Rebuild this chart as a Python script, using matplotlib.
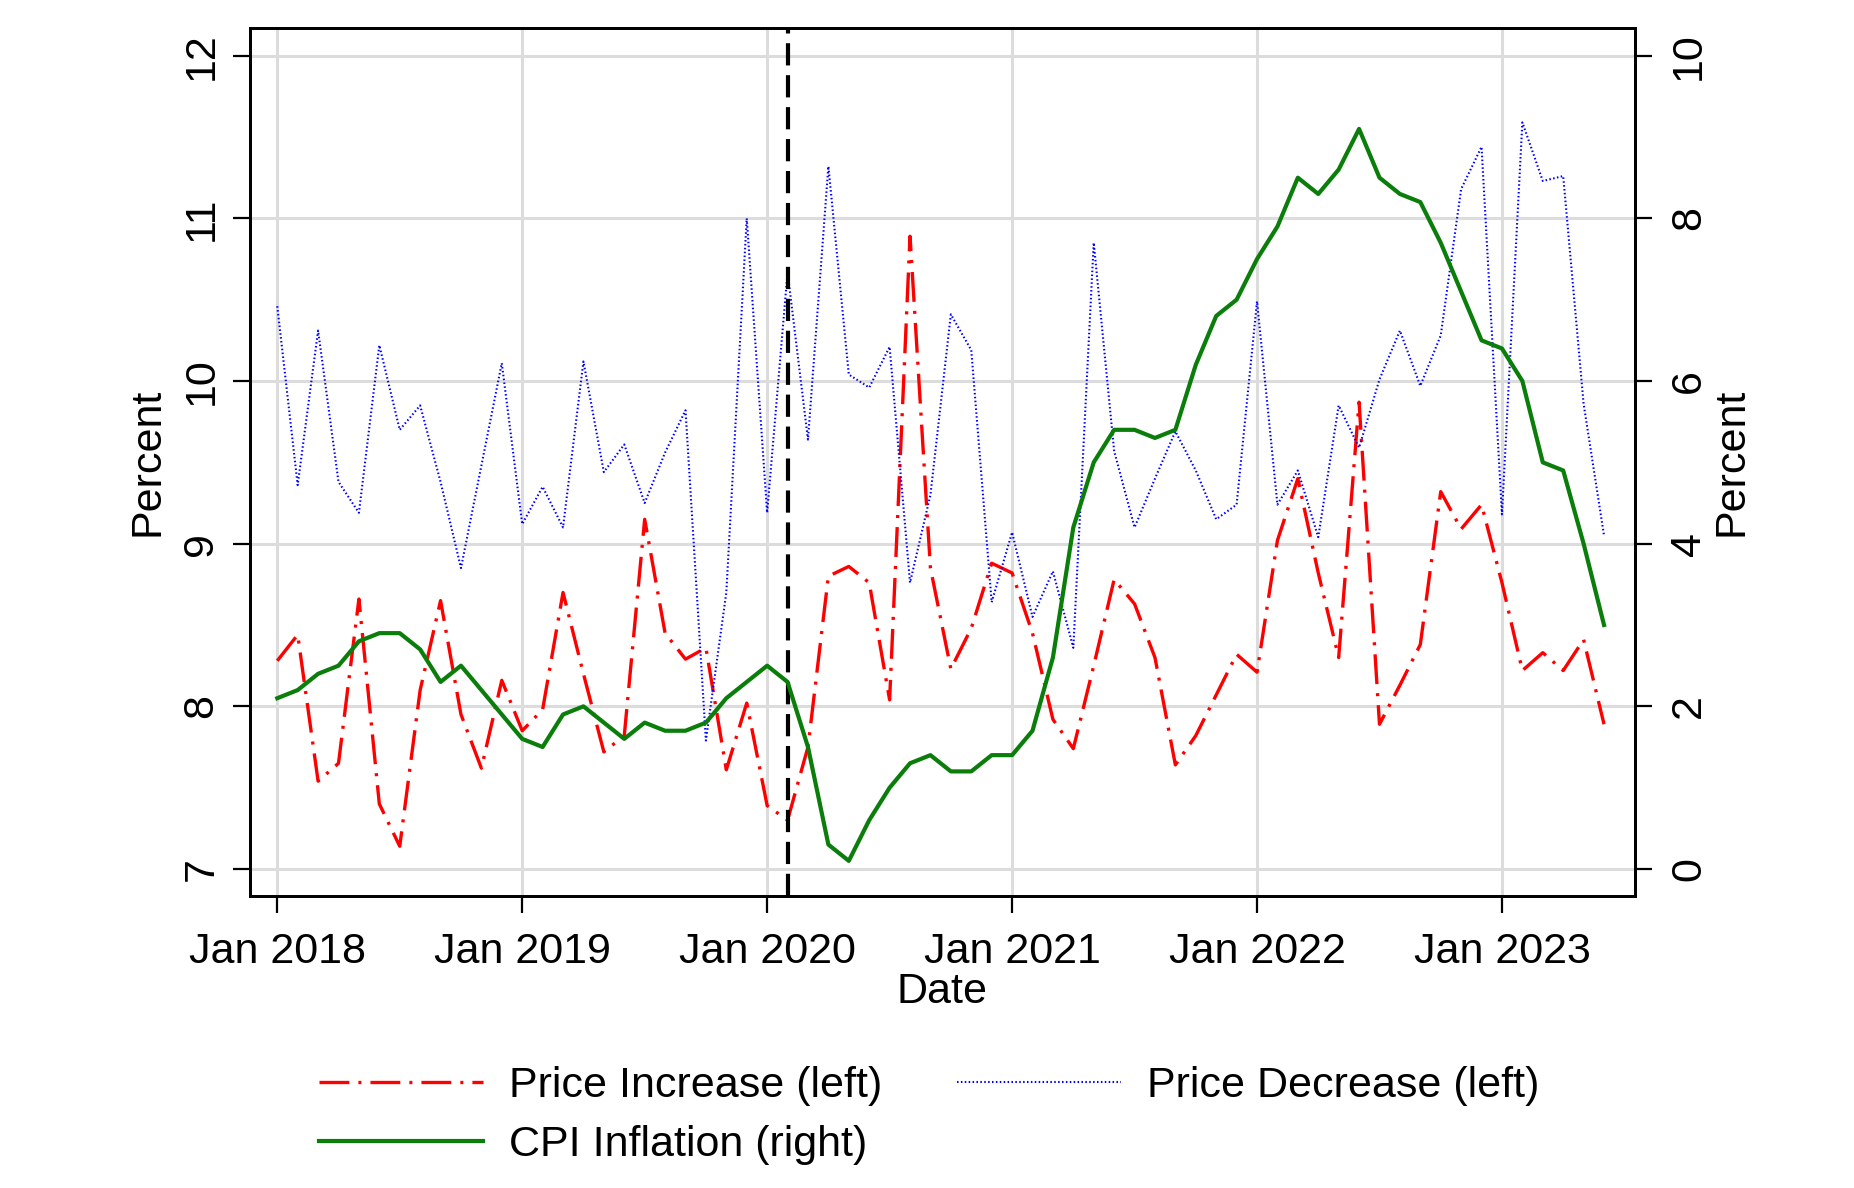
import numpy as np
import matplotlib.pyplot as plt

plt.rcParams['font.family'] = ['Liberation Sans', 'DejaVu Sans']
plt.rcParams['lines.scale_dashes'] = False

# months since Jan 2018 (Jan 2018 .. Jun 2023)
month = np.arange(66)

# share of price increases / decreases (left axis, percent)
price_inc = [8.28, 8.44, 7.54, 7.65, 8.66, 7.40, 7.14, 8.10, 8.65, 7.95, 7.62, 8.16,
             7.85, 7.98, 8.70, 8.20, 7.72, 7.82, 9.15, 8.45, 8.29, 8.36, 7.61, 8.02,
             7.39, 7.30, 7.75, 8.80, 8.86, 8.76, 8.04, 10.89, 8.85, 8.23, 8.48, 8.88,
             8.82, 8.45, 7.92, 7.74, 8.25, 8.78, 8.63, 8.30, 7.64, 7.82, 8.07, 8.32,
             8.21, 9.02, 9.40, 8.82, 8.30, 9.87, 7.89, 8.13, 8.38, 9.32, 9.09, 9.24,
             8.76, 8.22, 8.33, 8.22, 8.41, 7.89]
price_dec = [10.46, 9.36, 10.31, 9.38, 9.19, 10.22, 9.70, 9.85, 9.38, 8.85, 9.48, 10.11,
             9.12, 9.35, 9.10, 10.12, 9.44, 9.61, 9.25, 9.56, 9.82, 7.79, 8.70, 11.00,
             9.19, 10.67, 9.64, 11.32, 10.04, 9.96, 10.21, 8.76, 9.30, 10.41, 10.19, 8.64,
             9.07, 8.55, 8.83, 8.36, 10.85, 9.57, 9.10, 9.40, 9.69, 9.45, 9.15, 9.24,
             10.49, 9.24, 9.45, 9.04, 9.85, 9.59, 10.01, 10.31, 9.97, 10.28, 11.18, 11.44,
             9.18, 11.59, 11.23, 11.26, 9.86, 9.05]
# CPI inflation (right axis, percent)
cpi = [2.1, 2.2, 2.4, 2.5, 2.8, 2.9, 2.9, 2.7, 2.3, 2.5, 2.2, 1.9,
       1.6, 1.5, 1.9, 2.0, 1.8, 1.6, 1.8, 1.7, 1.7, 1.8, 2.1, 2.3,
       2.5, 2.3, 1.5, 0.3, 0.1, 0.6, 1.0, 1.3, 1.4, 1.2, 1.2, 1.4,
       1.4, 1.7, 2.6, 4.2, 5.0, 5.4, 5.4, 5.3, 5.4, 6.2, 6.8, 7.0,
       7.5, 7.9, 8.5, 8.3, 8.6, 9.1, 8.5, 8.3, 8.2, 7.7, 7.1, 6.5,
       6.4, 6.0, 5.0, 4.9, 4.0, 3.0]

xtick_pos = [0, 12, 24, 36, 48, 60]
xtick_lab = ['Jan 2018', 'Jan 2019', 'Jan 2020', 'Jan 2021', 'Jan 2022', 'Jan 2023']
left_ticks = [7, 8, 9, 10, 11, 12]
right_ticks = [0, 2, 4, 6, 8, 10]
covid_month = 25  # Feb 2020

fs = 31
fig = plt.figure(figsize=(18.54, 11.88), dpi=100)
ax = fig.add_axes([0.1348, 0.2462, 0.7471, 0.7306])
ax2 = ax.twinx()

red_dash = (0, (21.5, 6.5, 2.2, 6.5))
l_inc, = ax.plot(month, price_inc, color='red', lw=2.4, linestyle=red_dash,
                 dash_capstyle='butt')
l_dec, = ax.plot(month, price_dec, color='blue', lw=1.5, linestyle=(0, (1.1, 1.7)))
ax.axvline(covid_month, color='black', lw=3.0, linestyle=(0, (16, 7)))
l_cpi, = ax2.plot(month, cpi, color='#0a7d0a', lw=3.0)

ax.set_xlim(-1.34, 66.52)
ax.set_ylim(6.837, 12.173)
ax2.set_ylim(-0.326, 10.346)

ax.set_xticks(xtick_pos)
ax.set_xticklabels(xtick_lab)
ax.set_yticks(left_ticks)
ax.set_yticklabels([str(t) for t in left_ticks], rotation=90, va='center')
ax2.set_yticks(right_ticks)
ax2.set_yticklabels([str(t) for t in right_ticks], rotation=90, va='center')

ax.grid(True, color='#dcdcdc', lw=2.2)
ax.set_axisbelow(True)

for a in (ax, ax2):
    a.tick_params(direction='out', length=12.5, width=1.6, labelsize=fs, color='black')
    for s in a.spines.values():
        s.set_linewidth(2.0)
ax.tick_params(axis='x', pad=14)
ax.tick_params(axis='y', pad=8)
ax2.tick_params(axis='y', pad=12)

ax.set_xlabel('Date', fontsize=fs, labelpad=0)
ax.set_ylabel('Percent', fontsize=fs, labelpad=10)
ax2.set_ylabel('Percent', fontsize=fs, labelpad=2)

fig.legend([l_inc, l_cpi, l_dec],
           ['Price Increase (left)', 'CPI Inflation (right)', 'Price Decrease (left)'],
           loc='upper left', bbox_to_anchor=(0.1605, 0.121), ncol=2, frameon=False,
           fontsize=fs, handlelength=3.8, handletextpad=0.6, columnspacing=1.75,
           labelspacing=0.45, borderpad=0)

fig.savefig('out.png', dpi=100)
